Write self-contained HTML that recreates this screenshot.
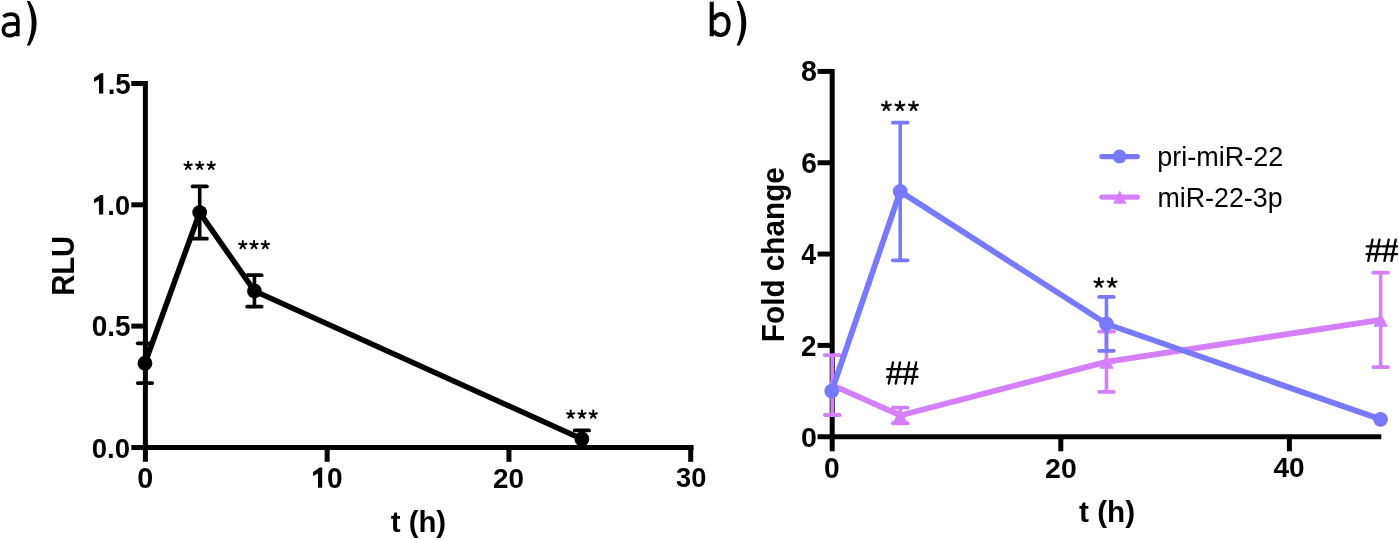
<!DOCTYPE html><html><head><meta charset="utf-8"><title>Figure</title><style>html,body{margin:0;padding:0;background:#fff;}svg{display:block}text{font-family:"Liberation Sans",sans-serif;font-kerning:none;font-variant-ligatures:none}</style></head><body>
<svg style="will-change:transform" xmlns="http://www.w3.org/2000/svg" width="1399" height="540" viewBox="0 0 1399 540">
<rect width="1399" height="540" fill="#fff"/>
<g stroke="#000" stroke-width="5" fill="none">
<line x1="145.4" y1="81.1" x2="145.4" y2="461.8"/>
<line x1="131.3" y1="447.4" x2="693.6" y2="447.4"/>
<line x1="131.3" y1="326.1" x2="145.4" y2="326.1"/>
<line x1="131.3" y1="204.8" x2="145.4" y2="204.8"/>
<line x1="131.3" y1="83.5" x2="145.4" y2="83.5"/>
<line x1="327.17" y1="447.4" x2="327.17" y2="461.8"/>
<line x1="508.94" y1="447.4" x2="508.94" y2="461.8"/>
<line x1="690.71" y1="447.4" x2="690.71" y2="461.8"/>
</g>
<path d="M103.25 73.25L103.25 93.6L99 93.6L99 79.36L94 81.8L94 77.73Q97.52 75.69 100.47 73.25Z" fill="#000"/>
<text transform="translate(92.25 93.61) scale(0.9385 1)" font-size="29.52" font-weight="bold"><tspan x="16.42">.5</tspan></text>
<path d="M103.2 195L103.2 214.6L98.97 214.6L98.97 200.88L94 203.23L94 199.31Q97.5 197.35 100.44 195Z" fill="#000"/>
<text transform="translate(92.19 214.62) scale(0.9634 1)" font-size="28.25" font-weight="bold"><tspan x="15.71">.0</tspan></text>
<text transform="translate(91.79 336.12) scale(0.9661 1)" font-size="28.95" font-weight="bold">0.5</text>
<text transform="translate(91.71 457.72) scale(0.9662 1)" font-size="28.53" font-weight="bold">0.0</text>
<text transform="translate(137.16 487.72) scale(0.9901 1)" font-size="29.1" font-weight="bold">0</text>
<path d="M322.2 467.4L322.2 487.8L318.01 487.8L318.01 473.52L313.1 475.97L313.1 471.89Q316.56 469.85 319.47 467.4Z" fill="#000"/>
<text transform="translate(311.33 487.52) scale(0.9741 1)" font-size="28.81" font-weight="bold"><tspan x="16.02">0</tspan></text>
<text transform="translate(492.93 487.52) scale(0.9869 1)" font-size="28.25" font-weight="bold">20</text>
<text transform="translate(676.07 487.48) scale(0.9678 1)" font-size="28.19" font-weight="bold">30</text>
<text transform="translate(390.74 532.46) scale(0.9658 1)" font-size="30.4" font-weight="bold">t (h)</text>
<text transform="translate(74.29 295.75) rotate(-90) scale(0.9124 1)" font-size="31.96" font-weight="bold">RLU</text>
<path d="M3.3 16.6C5.5 14.9 8 14.1 10.8 14.1C15.6 14.1 17.8 16.3 17.8 20.5L17.8 36.2M17.8 23.85L11 23.85C5.8 23.85 3.4 26.5 3.4 29.9C3.4 33.4 5.7 35.55 9.3 35.55C12.8 35.55 15.8 34 17.8 31.5" fill="none" stroke="#000" stroke-width="3.7"/>
<path d="M26.9 0.9L29.8 0.9Q43.4 23.15 29.8 45.4L26.9 45.4Q36.5 23.15 26.9 0.9Z" fill="#000"/>
<g stroke="#000" fill="none">
<line x1="144.95" y1="343.32" x2="144.95" y2="383.11" stroke-width="3.6"/>
<line x1="137.75" y1="343.32" x2="152.15" y2="343.32" stroke-width="3.8" stroke-linecap="round"/>
<line x1="137.75" y1="383.11" x2="152.15" y2="383.11" stroke-width="3.8" stroke-linecap="round"/>
<line x1="199.7" y1="186.46" x2="199.7" y2="238.67" stroke-width="3.6"/>
<line x1="192.5" y1="186.46" x2="206.9" y2="186.46" stroke-width="3.8" stroke-linecap="round"/>
<line x1="192.5" y1="238.67" x2="206.9" y2="238.67" stroke-width="3.8" stroke-linecap="round"/>
<line x1="254.45" y1="275.15" x2="254.45" y2="306.69" stroke-width="3.6"/>
<line x1="247.25" y1="275.15" x2="261.65" y2="275.15" stroke-width="3.8" stroke-linecap="round"/>
<line x1="247.25" y1="306.69" x2="261.65" y2="306.69" stroke-width="3.8" stroke-linecap="round"/>
<line x1="581.9" y1="430.42" x2="581.9" y2="447.4" stroke-width="3.6"/>
<line x1="574.7" y1="430.42" x2="589.1" y2="430.42" stroke-width="3.8" stroke-linecap="round"/>
<line x1="574.7" y1="447.4" x2="589.1" y2="447.4" stroke-width="3.8" stroke-linecap="round"/>
</g>
<polyline fill="none" stroke="#000" stroke-width="5.5" stroke-linejoin="round" points="144.95,363.22 199.7,212.56 254.45,290.92 581.9,438.91"/>
<circle cx="144.95" cy="363.22" r="7.4" fill="#000"/>
<circle cx="199.7" cy="212.56" r="7.4" fill="#000"/>
<circle cx="254.45" cy="290.92" r="7.4" fill="#000"/>
<circle cx="581.9" cy="438.91" r="7.4" fill="#000"/>
<path d="M188.16 165.72L188.16 161.87M188.16 165.72L191.82 164.53M188.16 165.72L184.5 164.53M188.16 165.72L190.42 168.83M188.16 165.72L185.9 168.83M199.7 165.72L199.7 161.87M199.7 165.72L203.36 164.53M199.7 165.72L196.04 164.53M199.7 165.72L201.96 168.83M199.7 165.72L197.44 168.83M211.24 165.72L211.24 161.87M211.24 165.72L214.9 164.53M211.24 165.72L207.58 164.53M211.24 165.72L213.5 168.83M211.24 165.72L208.98 168.83" stroke="#000" stroke-width="2" stroke-linecap="round" fill="none"/>
<path d="M242.76 244.97L242.76 241.12M242.76 244.97L246.42 243.78M242.76 244.97L239.1 243.78M242.76 244.97L245.02 248.08M242.76 244.97L240.5 248.08M254.05 244.97L254.05 241.12M254.05 244.97L257.71 243.78M254.05 244.97L250.39 243.78M254.05 244.97L256.31 248.08M254.05 244.97L251.79 248.08M265.34 244.97L265.34 241.12M265.34 244.97L269 243.78M265.34 244.97L261.68 243.78M265.34 244.97L267.6 248.08M265.34 244.97L263.08 248.08" stroke="#000" stroke-width="2" stroke-linecap="round" fill="none"/>
<path d="M570.66 414.47L570.66 410.62M570.66 414.47L574.32 413.28M570.66 414.47L567 413.28M570.66 414.47L572.92 417.58M570.66 414.47L568.4 417.58M581.95 414.47L581.95 410.62M581.95 414.47L585.61 413.28M581.95 414.47L578.29 413.28M581.95 414.47L584.21 417.58M581.95 414.47L579.69 417.58M593.24 414.47L593.24 410.62M593.24 414.47L596.9 413.28M593.24 414.47L589.58 413.28M593.24 414.47L595.5 417.58M593.24 414.47L590.98 417.58" stroke="#000" stroke-width="2" stroke-linecap="round" fill="none"/>
<g stroke="#000" stroke-width="5" fill="none">
<line x1="832.2" y1="69.1" x2="832.2" y2="451.3"/>
<line x1="817.6" y1="436.7" x2="1381.3" y2="436.7"/>
<line x1="817.6" y1="345.38" x2="832.2" y2="345.38"/>
<line x1="817.6" y1="254.06" x2="832.2" y2="254.06"/>
<line x1="817.6" y1="162.74" x2="832.2" y2="162.74"/>
<line x1="817.6" y1="71.42" x2="832.2" y2="71.42"/>
<line x1="1060.8" y1="436.7" x2="1060.8" y2="451.3"/>
<line x1="1289.4" y1="436.7" x2="1289.4" y2="451.3"/>
</g>
<text transform="translate(801.09 81.42) scale(0.9817 1)" font-size="29.1" font-weight="bold">8</text>
<text transform="translate(801.27 172.82) scale(0.9764 1)" font-size="28.81" font-weight="bold">6</text>
<text transform="translate(801.2 264.4) scale(0.9093 1)" font-size="29.36" font-weight="bold">4</text>
<text transform="translate(800.94 355.7) scale(0.9717 1)" font-size="28.64" font-weight="bold">2</text>
<text transform="translate(801.07 446.62) scale(1.0023 1)" font-size="28.53" font-weight="bold">0</text>
<text transform="translate(823.89 477.72) scale(0.9779 1)" font-size="28.81" font-weight="bold">0</text>
<text transform="translate(1045.11 477.52) scale(1.0074 1)" font-size="28.25" font-weight="bold">20</text>
<text transform="translate(1273.48 477.33) scale(1.0022 1)" font-size="27.97" font-weight="bold">40</text>
<text transform="translate(1079.04 522.46) scale(0.9766 1)" font-size="30.4" font-weight="bold">t (h)</text>
<text transform="translate(783.87 342.19) rotate(-90) scale(0.9754 1)" font-size="30.5" font-weight="bold">Fold change</text>
<path d="M711.75 1.85L711.75 36.3M713.5 19.5C715.3 16 718 14.1 721 14.1C725.8 14.1 728.6 18.5 728.6 24.3C728.6 30.8 725.5 35 720.6 35C717.6 35 715.3 33.5 713.5 31" fill="none" stroke="#000" stroke-width="4.1"/>
<path d="M736.6 0.9L739.5 0.9Q753.1 23.25 739.5 45.6L736.6 45.6Q746.2 23.25 736.6 0.9Z" fill="#000"/>
<g stroke="#D57FFF" fill="none">
<line x1="832.2" y1="355.2" x2="832.2" y2="415.01" stroke-width="3.6"/>
<line x1="824.85" y1="355.2" x2="839.55" y2="355.2" stroke-width="3.8" stroke-linecap="round"/>
<line x1="824.85" y1="415.01" x2="839.55" y2="415.01" stroke-width="3.8" stroke-linecap="round"/>
<line x1="900.2" y1="407.71" x2="900.2" y2="423.23" stroke-width="3.6"/>
<line x1="892.85" y1="407.71" x2="907.55" y2="407.71" stroke-width="3.8" stroke-linecap="round"/>
<line x1="892.85" y1="423.23" x2="907.55" y2="423.23" stroke-width="3.8" stroke-linecap="round"/>
<line x1="1106.45" y1="331.68" x2="1106.45" y2="391.95" stroke-width="3.6"/>
<line x1="1099.1" y1="331.68" x2="1113.8" y2="331.68" stroke-width="3.8" stroke-linecap="round"/>
<line x1="1099.1" y1="391.95" x2="1113.8" y2="391.95" stroke-width="3.8" stroke-linecap="round"/>
<line x1="1380.6" y1="272.55" x2="1380.6" y2="367.07" stroke-width="3.6"/>
<line x1="1373.25" y1="272.55" x2="1387.95" y2="272.55" stroke-width="3.8" stroke-linecap="round"/>
<line x1="1373.25" y1="367.07" x2="1387.95" y2="367.07" stroke-width="3.8" stroke-linecap="round"/>
</g>
<polyline fill="none" stroke="#D57FFF" stroke-width="5.8" stroke-linejoin="round" stroke-linecap="round" points="832.2,385.1 900.2,415.47 1106.45,361.82 1380.6,319.81"/>
<polygon points="832.2,378.1 839.4,392.1 825,392.1" fill="#D57FFF"/>
<polygon points="900.2,408.47 907.4,422.47 893,422.47" fill="#D57FFF"/>
<polygon points="1106.45,354.82 1113.65,368.82 1099.25,368.82" fill="#D57FFF"/>
<polygon points="1380.6,312.81 1387.8,326.81 1373.4,326.81" fill="#D57FFF"/>
<g stroke="#7779FF" fill="none">
<line x1="900.2" y1="122.65" x2="900.2" y2="260.36" stroke-width="3.6"/>
<line x1="892.85" y1="122.65" x2="907.55" y2="122.65" stroke-width="3.8" stroke-linecap="round"/>
<line x1="892.85" y1="260.36" x2="907.55" y2="260.36" stroke-width="3.8" stroke-linecap="round"/>
<line x1="1106.45" y1="296.93" x2="1106.45" y2="350.81" stroke-width="3.6"/>
<line x1="1099.1" y1="296.93" x2="1113.8" y2="296.93" stroke-width="3.8" stroke-linecap="round"/>
<line x1="1099.1" y1="350.81" x2="1113.8" y2="350.81" stroke-width="3.8" stroke-linecap="round"/>
</g>
<polyline fill="none" stroke="#7779FF" stroke-width="5.8" stroke-linejoin="round" stroke-linecap="round" points="831.7,391.04 900.2,191.51 1106.45,323.87 1380.5,419.35"/>
<circle cx="831.7" cy="391.04" r="7.4" fill="#7779FF"/>
<circle cx="900.2" cy="191.51" r="7.4" fill="#7779FF"/>
<circle cx="1106.45" cy="323.87" r="7.4" fill="#7779FF"/>
<circle cx="1380.5" cy="419.35" r="7.4" fill="#7779FF"/>
<path d="M886.37 106.14L886.37 101.54M886.37 106.14L890.75 104.72M886.37 106.14L882 104.72M886.37 106.14L889.08 109.86M886.37 106.14L883.67 109.86M899.95 106.14L899.95 101.54M899.95 106.14L904.32 104.72M899.95 106.14L895.58 104.72M899.95 106.14L902.65 109.86M899.95 106.14L897.25 109.86M913.53 106.14L913.53 101.54M913.53 106.14L917.9 104.72M913.53 106.14L909.15 104.72M913.53 106.14L916.23 109.86M913.53 106.14L910.82 109.86" stroke="#000" stroke-width="2.2" stroke-linecap="round" fill="none"/>
<path d="M1098.87 282.99L1098.87 278.39M1098.87 282.99L1103.25 281.57M1098.87 282.99L1094.5 281.57M1098.87 282.99L1101.58 286.71M1098.87 282.99L1096.17 286.71M1112.13 282.99L1112.13 278.39M1112.13 282.99L1116.5 281.57M1112.13 282.99L1107.75 281.57M1112.13 282.99L1114.83 286.71M1112.13 282.99L1109.42 286.71" stroke="#000" stroke-width="2.2" stroke-linecap="round" fill="none"/>
<path d="M893 362.4L888.75 383.5M900 362.4L895.75 383.5M887.2 369.1L901.3 369.1M887.2 376.9L901.3 376.9M909.2 362.4L904.95 383.5M916.2 362.4L911.95 383.5M903.4 369.1L917.5 369.1M903.4 376.9L917.5 376.9" stroke="#000" stroke-width="2.3" stroke-linecap="round" fill="none"/>
<path d="M1372.5 239.7L1368.25 260.8M1379.5 239.7L1375.25 260.8M1366.7 246.4L1380.8 246.4M1366.7 254.2L1380.8 254.2M1388.7 239.7L1384.45 260.8M1395.7 239.7L1391.45 260.8M1382.9 246.4L1397 246.4M1382.9 254.2L1397 254.2" stroke="#000" stroke-width="2.3" stroke-linecap="round" fill="none"/>
<line x1="1102" y1="156.6" x2="1137.2" y2="156.6" stroke="#7779FF" stroke-width="5.4" stroke-linecap="round"/>
<circle cx="1119.6" cy="156.6" r="7" fill="#7779FF"/>
<line x1="1102" y1="197.1" x2="1137.2" y2="197.1" stroke="#D57FFF" stroke-width="5.4" stroke-linecap="round"/>
<polygon points="1119.8,190.4 1126.6,203.8 1113,203.8" fill="#D57FFF"/>
<text transform="translate(1157.26 165.99) scale(0.9642 1)" font-size="28">pri-miR-22</text>
<text transform="translate(1157.42 206.79) scale(0.9587 1)" font-size="28">miR-22-3p</text>
</svg></body></html>
